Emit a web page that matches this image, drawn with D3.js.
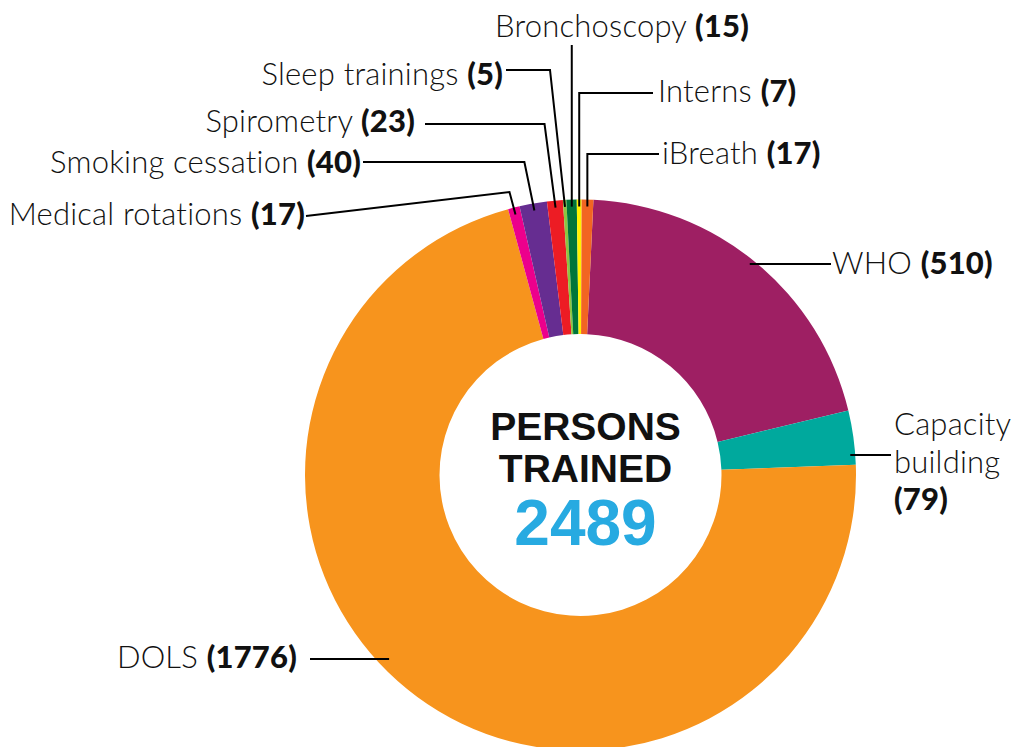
<!DOCTYPE html>
<html>
<head>
<meta charset="utf-8">
<script src="https://cdn.jsdelivr.net/npm/d3@7"></script>
<style>
  html, body { margin: 0; padding: 0; background: #fff; }
  .lbl { font-family: Lato, 'Open Sans', sans-serif; font-weight: 300; fill: #111; letter-spacing: 0.2px; }
  .lbl .num { font-weight: 900; }
  .leader { fill: none; stroke: #000; stroke-width: 2; }
  .center { font-family: 'Liberation Sans', Arial, sans-serif; font-weight: bold; text-anchor: middle; }
</style>
</head>
<body>
<div id="chart"></div>
<script>
// data, clockwise from the top
const categories = [
  'WHO',
  'Capacity building',
  'DOLS',
  'Medical rotations',
  'Smoking cessation',
  'Spirometry',
  'Sleep trainings',
  'Bronchoscopy',
  'Interns',
  'iBreath',
];
const values = [510, 79, 1776, 17, 40, 23, 5, 15, 7, 17];
const colors = [
  '#9e1f63',
  '#00a99d',
  '#f7941d',
  '#ec008c',
  '#662d91',
  '#ed1c24',
  '#8dc63f',
  '#00753a',
  '#fff200',
  '#f26522',
];
const centerTitle = ['PERSONS', 'TRAINED'];

// label placement (text anchor + where the leader line bends)
const labelLayout = {
  'Bronchoscopy':      { anchor: 'middle', x: 622, y: 37,  kind: 'drop', lineY: 45 },
  'Sleep trainings':   { anchor: 'end',    x: 503, y: 85,  kind: 'elbow', lineY: 70,  gap: 3, dx: -15 },
  'Interns':           { anchor: 'start',  x: 658, y: 102, kind: 'elbow', lineY: 93,  gap: 5, dx: 0 },
  'Spirometry':        { anchor: 'end',    x: 415, y: 132, kind: 'elbow', lineY: 124, gap: 10, dx: -11 },
  'iBreath':           { anchor: 'start',  x: 662, y: 164, kind: 'elbow', lineY: 154, gap: 3, dx: 0 },
  'Smoking cessation': { anchor: 'end',    x: 361, y: 173, kind: 'elbow', lineY: 162, gap: 2, dx: -10 },
  'Medical rotations': { anchor: 'end',    x: 305, y: 225, kind: 'slant', lineY: 216, gap: 1, dx: -6, bendY: 192 },
  'WHO':               { anchor: 'start',  x: 832, y: 274, kind: 'flat', lineY: 264, gap: 1, inset: 5 },
  'Capacity building': { anchor: 'start',  x: 894, y: 435, kind: 'flat', lineY: 455, gap: 3, inset: 5, stacked: true },
  'DOLS':              { anchor: 'end',    x: 297, y: 668, kind: 'flat', lineY: 659, gap: 13, inset: 10 },
};

const width = 1014,
  height = 747,
  cx = 580.5,
  cy = 475,
  outerR = 275.5,
  innerR = 141,
  tipR = outerR - 7,
  rotation = 0.047;

const data = categories.map((c, i) => ({ label: c, value: values[i], color: colors[i] }));
const total = d3.sum(values);

const svg = d3
  .select('#chart')
  .append('svg')
  .attr('width', width)
  .attr('height', height);

const g = svg.append('g').attr('transform', `translate(${cx},${cy})`);

const pie = d3
  .pie()
  .sort(null)
  .value((d) => d.value)
  .startAngle(rotation)
  .endAngle(rotation + 2 * Math.PI);

const arc = d3.arc().innerRadius(innerR).outerRadius(outerR);
const arcs = pie(data);

/* ------- SLICES ------- */
g.selectAll('path.slice')
  .data(arcs)
  .enter()
  .append('path')
  .attr('class', 'slice')
  .attr('d', arc)
  .style('fill', (d) => d.data.color);

const midAngle = (d) => d.startAngle + (d.endAngle - d.startAngle) / 2;
const tip = (d) => {
  const a = midAngle(d);
  return [tipR * Math.sin(a), -tipR * Math.cos(a)];
};

/* ------- LABELS ------- */
const labels = svg.append('g');

arcs.forEach((d) => {
  const L = labelLayout[d.data.label];
  const fs = 31;

  if (L.stacked) {
    // one text per line so the lines stay apart
    const lines = d.data.label.split(' ').concat(`(${d.value})`);
    lines.forEach((w, i) => {
      labels
        .append('text')
        .attr('class', i === lines.length - 1 ? 'lbl num' : 'lbl')
        .attr('font-size', fs)
        .attr('text-anchor', L.anchor)
        .attr('x', L.x)
        .attr('y', L.y + i * 37.5)
        .style('font-weight', i === lines.length - 1 ? 900 : 300)
        .text(w);
    });
  } else {
    const t = labels
      .append('text')
      .attr('class', 'lbl')
      .attr('font-size', fs)
      .attr('text-anchor', L.anchor)
      .attr('x', L.x)
      .attr('y', L.y);
    t.append('tspan').text(d.data.label + ' ');
    t.append('tspan').attr('class', 'num').text(`(${d.value})`);
  }

  // leader line, in page coordinates
  const [tx, ty] = tip(d);
  const end = [cx + tx, cy + ty];
  const startX = L.anchor === 'end' ? L.x + L.gap : L.x - (L.gap || 0);
  let pts;
  if (L.kind === 'drop') {
    pts = [[end[0], L.lineY], end];
  } else if (L.kind === 'elbow') {
    pts = [[startX, L.lineY], [end[0] + L.dx, L.lineY], end];
  } else if (L.kind === 'slant') {
    pts = [[startX, L.lineY], [end[0] + L.dx, L.bendY], end];
  } else {
    const r = outerR - L.inset;
    const dy = L.lineY - cy;
    const side = L.anchor === 'end' ? -1 : 1;
    const ringX = cx + side * Math.sqrt(r * r - dy * dy);
    pts = [[startX, L.lineY], [ringX, L.lineY]];
  }
  labels.append('path').attr('class', 'leader').attr('d', d3.line()(pts));
});

/* ------- CENTER ------- */
const c = svg.append('g').attr('transform', `translate(${cx + 5},${cy})`);
c.selectAll('text.title')
  .data(centerTitle)
  .enter()
  .append('text')
  .attr('class', 'center title')
  .attr('font-size', 39)
  .attr('y', (d, i) => -35 + i * 42)
  .attr('fill', '#111')
  .text((d) => d);

c.append('text')
  .attr('class', 'center')
  .attr('font-size', 64)
  .attr('y', 70)
  .attr('fill', '#27aae1')
  .text(total);
</script>
</body>
</html>
